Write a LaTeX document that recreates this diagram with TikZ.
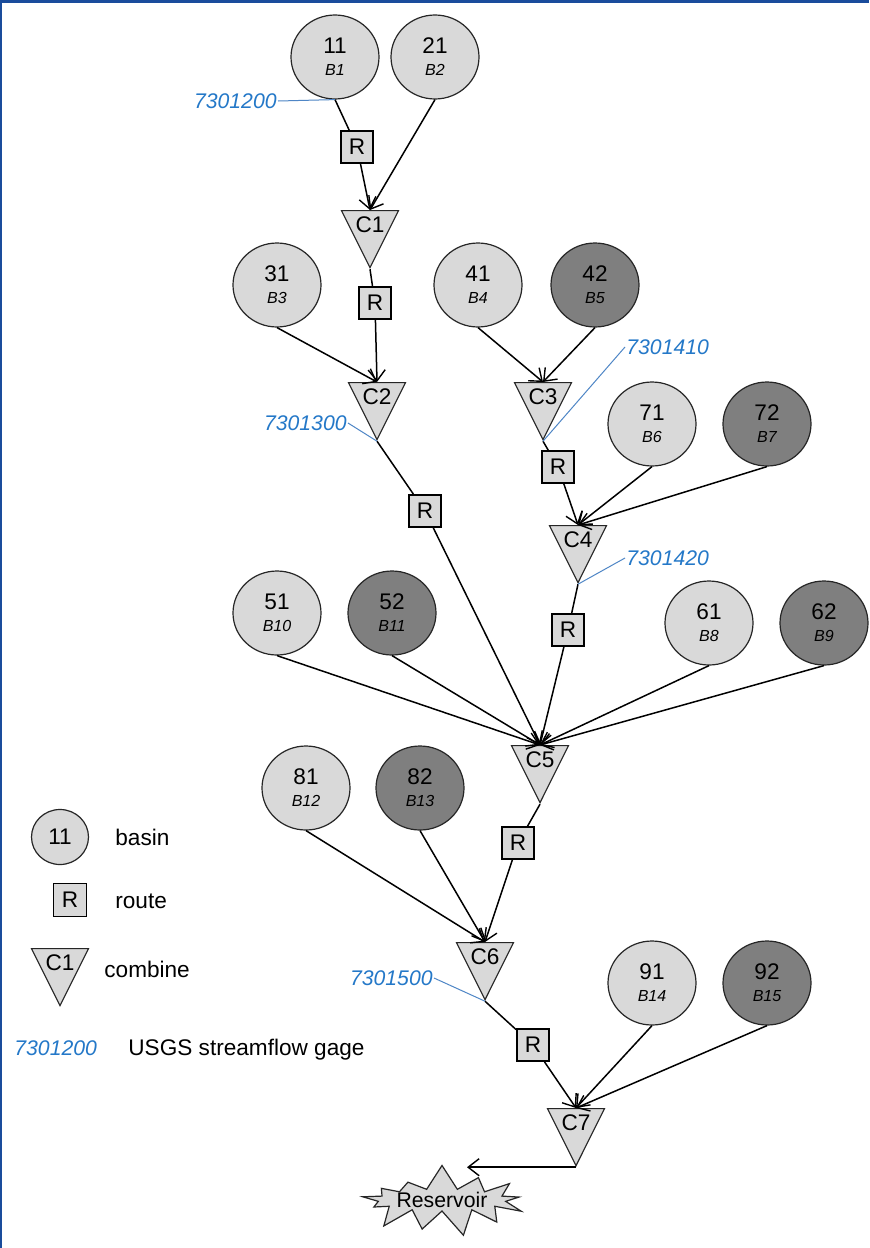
\documentclass[tikz,border=0pt]{standalone}
\usepackage{fontspec}
\setmainfont{Liberation Sans}
\usetikzlibrary{shapes.geometric,shapes.symbols,arrows.meta}
\definecolor{basinlight}{HTML}{D9D9D9}
\definecolor{basindark}{HTML}{7F7F7F}
\definecolor{gageblue}{HTML}{2478C8}
\definecolor{gagelink}{HTML}{4F86C6}
\definecolor{frameblue}{HTML}{1A4C9C}
\newcommand{\bname}[2]{#1\\[-1.5pt]{\fontsize{8}{9}\selectfont\itshape #2}}
\begin{document}
\begin{tikzpicture}[x=0.5pt,y=-0.5pt,
    >={Straight Barb[length=5.5pt,width=8.5pt,line width=0.7pt]},
    every edge/.style={draw,->,line width=0.75pt},
    every node/.style={font=\fontsize{11.3}{12.5}\selectfont},
    basin/.style={ellipse,draw=black!85,line width=0.6pt,fill=basinlight,minimum width=44pt,minimum height=42pt,inner sep=0pt,align=center},
    dark/.style={basin,fill=basindark},
    route/.style={rectangle,draw,line width=0.9pt,fill=basinlight,minimum size=16pt,inner sep=0pt},
    combine/.style={isosceles triangle,shape border rotate=270,isosceles triangle stretches,draw=black!85,line width=0.6pt,fill=basinlight,minimum width=28.5pt,minimum height=27pt,inner xsep=0.2pt,inner ysep=0.6pt,text height=9.4pt,text depth=0pt,anchor=lower side},
    gage/.style={text=gageblue,font=\fontsize{10.6}{13}\selectfont\itshape,inner sep=0.5pt},
    gagelink/.style={draw=gagelink,line width=0.5pt},
    legend/.style={inner sep=0pt,anchor=base west}]
    \useasboundingbox (0,0) rectangle (869,1248);
    \fill[white] (0,0) rectangle (869,1248);
    \fill[frameblue] (0,0) rectangle (869,3);
    \fill[frameblue] (0,0) rectangle (2,1248);

    % basins
    \node[basin] (b11) at (335,57) {\bname{11}{B1}};
    \node[basin] (b21) at (435,57) {\bname{21}{B2}};
    \node[basin] (b31) at (277,285) {\bname{31}{B3}};
    \node[basin] (b41) at (478,285) {\bname{41}{B4}};
    \node[dark]  (b42) at (595,285) {\bname{42}{B5}};
    \node[basin] (b71) at (652,424) {\bname{71}{B6}};
    \node[dark]  (b72) at (767,424) {\bname{72}{B7}};
    \node[basin] (b51) at (277,613) {\bname{51}{B10}};
    \node[dark]  (b52) at (392,613) {\bname{52}{B11}};
    \node[basin] (b61) at (709,623) {\bname{61}{B8}};
    \node[dark]  (b62) at (824,623) {\bname{62}{B9}};
    \node[basin] (b81) at (306,788) {\bname{81}{B12}};
    \node[dark]  (b82) at (420,788) {\bname{82}{B13}};
    \node[basin] (b91) at (652,983) {\bname{91}{B14}};
    \node[dark]  (b92) at (767,983) {\bname{92}{B15}};

    % combines
    \node[combine] (c1) at (370,210) {C1};
    \node[combine] (c2) at (377,382) {C2};
    \node[combine] (c3) at (543,382) {C3};
    \node[combine] (c4) at (578,525) {C4};
    \node[combine] (c5) at (540,745) {C5};
    \node[combine] (c6) at (485,942) {C6};
    \node[combine] (c7) at (576,1108) {C7};

    % routes
    \node[route] (r1) at (357,147) {R};
    \node[route] (r2) at (375,303) {R};
    \node[route] (r3) at (425,511) {R};
    \node[route] (r4) at (558,467) {R};
    \node[route] (r5) at (568,630) {R};
    \node[route] (r6) at (518,843) {R};
    \node[route] (r7) at (533,1045) {R};

    \node[starburst,starburst points=13,starburst point height=13pt,random starburst=7,
          draw=black!85,line width=0.6pt,fill=basinlight,minimum width=64pt,minimum height=34pt,
          inner sep=0pt,font=\fontsize{10.6}{12}\selectfont] (res) at (442,1200) {Reservoir};
    \coordinate (resin) at (467,1164);

    \path (b11.south) edge[-] (r1)
          (r1) edge (c1.lower side)
          (b21.south) edge (c1.lower side)
          (c1.apex) edge[-] (r2)
          (r2) edge (c2.lower side)
          (b31.south) edge (c2.lower side)
          (b41.south) edge (c3.lower side)
          (b42.south) edge (c3.lower side)
          (c3.apex) edge[-] (r4)
          (r4) edge (c4.lower side)
          (b71.south) edge (c4.lower side)
          (b72.south) edge (c4.lower side)
          (c2.apex) edge[-] (r3)
          (r3) edge (c5.lower side)
          (c4.apex) edge[-] (r5)
          (r5) edge (c5.lower side)
          (b51.south) edge (c5.lower side)
          (b52.south) edge (c5.lower side)
          (b61.south) edge (c5.lower side)
          (b62.south) edge (c5.lower side)
          (c5.apex) edge[-] (r6)
          (r6) edge (c6.lower side)
          (b81.south) edge (c6.lower side)
          (b82.south) edge (c6.lower side)
          (c6.apex) edge[-] (r7)
          (r7) edge (c7.lower side)
          (b91.south) edge (c7.lower side)
          (b92.south) edge (c7.lower side)
          (c7.apex) edge (c7.apex -| resin);

    % gages
    \node[gage,anchor=east] (g1) at (278,101) {7301200};
    \node[gage,anchor=east] (g2) at (348,423) {7301300};
    \node[gage,anchor=west] (g3) at (625,347) {7301410};
    \node[gage,anchor=west] (g4) at (625,558) {7301420};
    \node[gage,anchor=east] (g5) at (434,978) {7301500};
    \draw[gagelink] (g1.east) -- (b11.south);
    \draw[gagelink] (g2.east) -- (c2.apex);
    \draw[gagelink] (g3.west) -- (c3.apex);
    \draw[gagelink] (g4.west) -- (c4.apex);
    \draw[gagelink] (g5.east) -- (c6.apex);

    % legend
    \node[basin,minimum width=28.5pt,minimum height=27.5pt] (lbasin) at (60,837) {11};
    \node[legend] (tbasin) at (115,845) {basin};
    \node[route,minimum size=16.5pt] (lroute) at (70,900) {R};
    \node[legend] (troute) at (115,908) {route};
    \node[combine] (lcombine) at (60,948) {C1};
    \node[legend] (tcombine) at (104,977) {combine};
    \node[gage,anchor=base west] (lgage) at (13,1055) {7301200};
    \node[legend] (tgage) at (128,1055) {USGS streamflow gage};
\end{tikzpicture}
\end{document}
